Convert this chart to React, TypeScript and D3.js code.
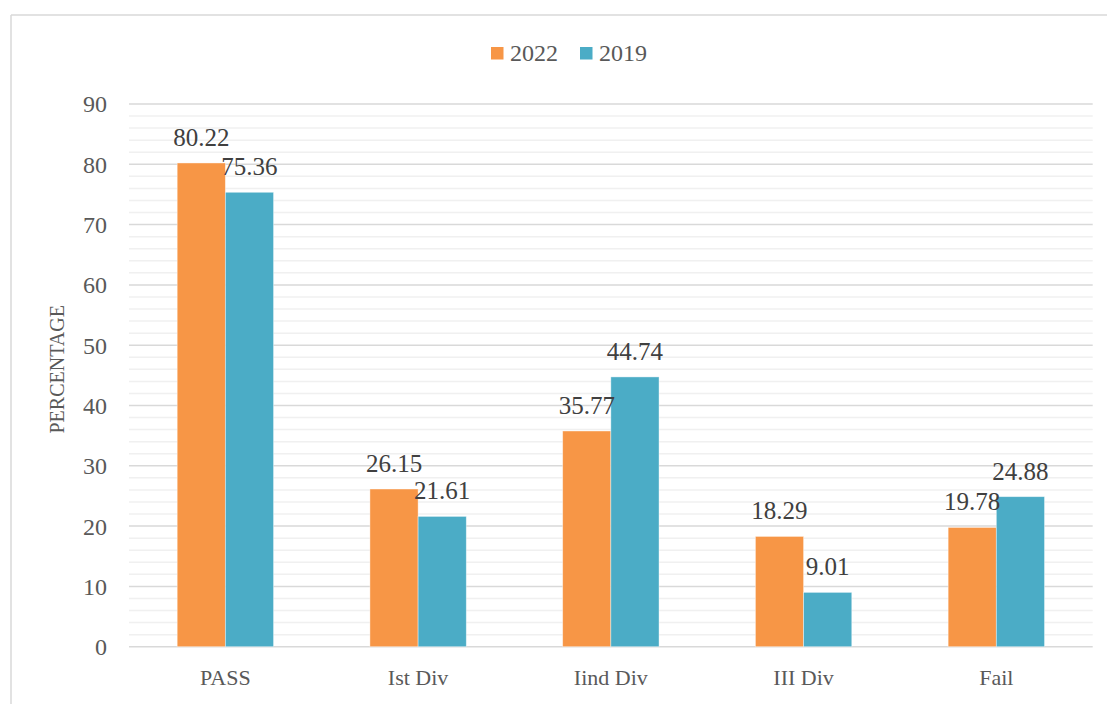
import React from "react";
import * as d3 from "d3";

const categories = ["PASS", "Ist Div", "Iind Div", "III Div", "Fail"];
const seriesNames = ["2022", "2019"];
const values2022 = [80.22, 26.15, 35.77, 18.29, 19.78];
const values2019 = [75.36, 21.61, 44.74, 9.01, 24.88];
const yTicks = [0, 10, 20, 30, 40, 50, 60, 70, 80, 90];
const colors = ["#F79646", "#4BACC6"];

const W = 1107;
const H = 704;
const left = 129;
const right = 1092.7;
const top = 104;
const bottom = 646.7;
const FONT = "'Liberation Serif', 'Times New Roman', serif";

export default function App() {
  const x = d3.scaleBand<string>().domain(categories).range([left, right]).padding(0);
  const y = d3.scaleLinear().domain([0, 90]).range([bottom, top]);
  const inner = d3
    .scaleBand<string>()
    .domain(seriesNames)
    .range([0, x.bandwidth()])
    .paddingInner(0)
    .paddingOuter(1);
  const minorTicks = d3.range(0, 90, 2).filter((v) => v % 10 !== 0);
  const series = [values2022, values2019];

  return (
    <svg
      width={W}
      height={H}
      style={{ position: "absolute", left: 0, top: 0, background: "#fff" }}
      fontFamily={FONT}
    >
      {/* outer border */}
      <line x1={11} y1={15} x2={W} y2={15} stroke="#d9d9d9" strokeWidth={1.5} />
      <line x1={11} y1={15} x2={11} y2={H} stroke="#d9d9d9" strokeWidth={1.5} />

      {/* minor gridlines */}
      {minorTicks.map((t) => (
        <line key={"m" + t} x1={left} x2={right} y1={y(t)} y2={y(t)} stroke="#f0f0f0" strokeWidth={1.5} />
      ))}
      {/* major gridlines */}
      {yTicks.map((t) => (
        <line key={"g" + t} x1={left} x2={right} y1={y(t)} y2={y(t)} stroke="#d9d9d9" strokeWidth={1.5} />
      ))}

      {/* tick labels */}
      {yTicks.map((t) => (
        <text
          key={"t" + t}
          x={107}
          y={y(t)}
          dy="0.35em"
          textAnchor="end"
          fontSize={24}
          fill="#595959"
        >
          {t}
        </text>
      ))}

      {/* bars */}
      {series.map((vals, si) =>
        categories.map((c, ci) => {
          const bx = (x(c) as number) + (inner(seriesNames[si]) as number);
          const by = y(vals[ci]);
          return (
            <rect
              key={si + "-" + ci}
              x={bx}
              y={by}
              width={inner.bandwidth()}
              height={bottom - by}
              fill={colors[si]}
              stroke="#ffffff"
              strokeOpacity={0.5}
              strokeWidth={0.8}
            />
          );
        })
      )}

      {/* data labels */}
      {series.map((vals, si) =>
        categories.map((c, ci) => {
          const cx = (x(c) as number) + (inner(seriesNames[si]) as number) + inner.bandwidth() / 2;
          return (
            <text
              key={"l" + si + "-" + ci}
              x={cx}
              y={y(vals[ci]) - 17}
              textAnchor="middle"
              fontSize={25}
              fill="#404040"
            >
              {vals[ci].toFixed(2)}
            </text>
          );
        })
      )}

      {/* category labels */}
      {categories.map((c) => (
        <text
          key={"c" + c}
          x={(x(c) as number) + x.bandwidth() / 2}
          y={685}
          textAnchor="middle"
          fontSize={22}
          fill="#595959"
        >
          {c}
        </text>
      ))}

      {/* y axis title */}
      <text
        transform={`translate(64, ${(top + bottom) / 2 - 6}) rotate(-90)`}
        textAnchor="middle"
        fontSize={20}
        fill="#595959"
      >
        PERCENTAGE
      </text>

      {/* legend */}
      {seriesNames.map((s, i) => {
        const lx = i === 0 ? 491 : 580;
        return (
          <g key={"lg" + s}>
            <rect x={lx} y={47} width={12.5} height={12.5} fill={colors[i]} />
            <text x={lx + 19} y={61} fontSize={24} fill="#595959">
              {s}
            </text>
          </g>
        );
      })}
    </svg>
  );
}
